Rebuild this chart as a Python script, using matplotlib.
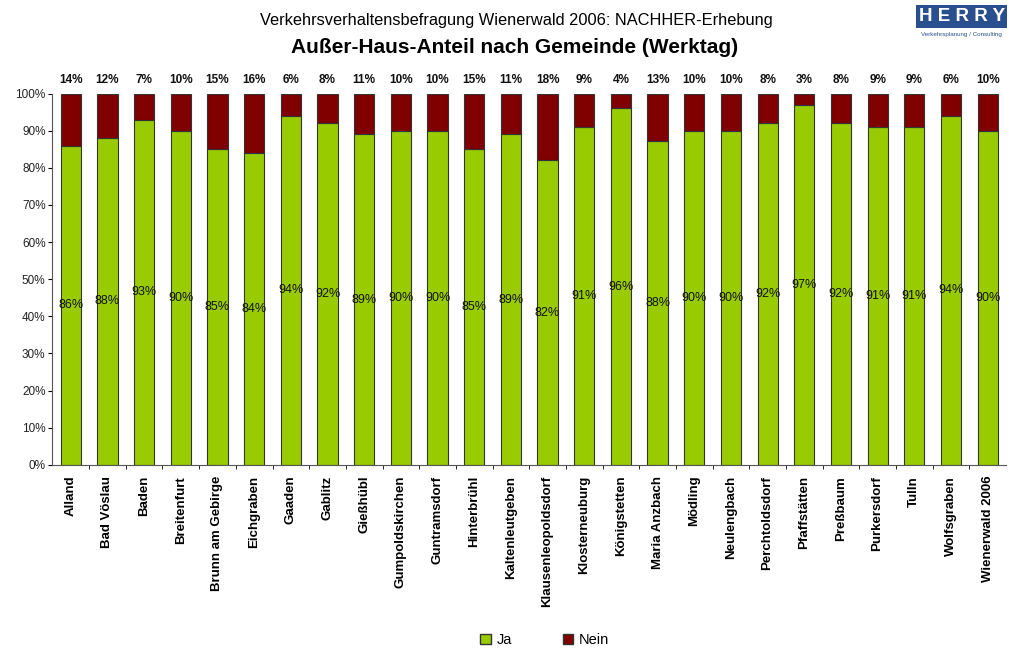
import matplotlib
matplotlib.use("Agg")
import matplotlib.pyplot as plt
import numpy as np
from matplotlib.patches import Rectangle

plt.rcParams["font.family"] = ["Liberation Sans", "DejaVu Sans"]

gemeinden = [
    "Alland", "Bad Vöslau", "Baden", "Breitenfurt", "Brunn am Gebirge",
    "Eichgraben", "Gaaden", "Gablitz", "Gießhübl", "Gumpoldskirchen",
    "Guntramsdorf", "Hinterbrühl", "Kaltenleutgeben", "Klausenleopoldsdorf",
    "Klosterneuburg", "Königstetten", "Maria Anzbach", "Mödling",
    "Neulengbach", "Perchtoldsdorf", "Pfaffstätten", "Preßbaum",
    "Purkersdorf", "Tulln", "Wolfsgraben", "Wienerwald 2006",
]
ja = [86, 88, 93, 90, 85, 84, 94, 92, 89, 90, 90, 85, 89, 82, 91, 96, 88,
      90, 90, 92, 97, 92, 91, 91, 94, 90]
nein = [14, 12, 7, 10, 15, 16, 6, 8, 11, 10, 10, 15, 11, 18, 9, 4, 13,
        10, 10, 8, 3, 8, 9, 9, 6, 10]

GREEN = "#99cc00"
RED = "#800000"

ja_arr = np.array(ja, dtype=float)
nein_arr = np.array(nein, dtype=float)
total = ja_arr + nein_arr
ja_share = ja_arr / total * 100
nein_share = nein_arr / total * 100
x = np.arange(len(gemeinden))

fig = plt.figure(figsize=(10.09, 6.5), dpi=100)
ax = fig.add_axes([0.052, 0.285, 0.945, 0.571])

ax.bar(x, ja_share, width=0.55, color=GREEN, edgecolor="#333333",
       linewidth=0.8, label="Ja")
ax.bar(x, nein_share, bottom=ja_share, width=0.55, color=RED,
       edgecolor="#333333", linewidth=0.8, label="Nein")

for xi, j, jv, nv in zip(x, ja_share, ja, nein):
    ax.text(xi, j / 2, f"{jv}%", ha="center", va="center", fontsize=9,
            color="#111111")
    ax.text(xi, 102, f"{nv}%", ha="center", va="bottom", fontsize=8.5,
            fontweight="bold", color="#111111")

ax.set_xlim(-0.5, len(gemeinden) - 0.5)
ax.set_ylim(0, 100)
ax.set_yticks(np.arange(0, 101, 10))
ax.set_yticklabels([f"{v}%" for v in range(0, 101, 10)], fontsize=8.5,
                   color="#222222")
ax.set_xticks(x)
ax.set_xticklabels(gemeinden, rotation=90, fontsize=9.5, fontweight="bold")
ax.set_xticks(np.arange(0.5, len(gemeinden) - 0.5, 1), minor=True)
ax.tick_params(axis="x", which="major", length=0, pad=8)
ax.tick_params(axis="x", which="minor", length=3, direction="out")
ax.tick_params(axis="y", length=3, direction="out", pad=2)
for side in ("top", "right"):
    ax.spines[side].set_visible(False)
for side in ("left", "bottom"):
    ax.spines[side].set_color("#555555")
    ax.spines[side].set_linewidth(0.8)

fig.text(0.512, 0.969, "Verkehrsverhaltensbefragung Wienerwald 2006: NACHHER-Erhebung",
         ha="center", va="center", fontsize=11.8)
fig.text(0.51, 0.927, "Außer-Haus-Anteil nach Gemeinde (Werktag)",
         ha="center", va="center", fontsize=15, fontweight="bold")

# firm logo in the top right corner
fig.text(0.953, 0.975, "H E R R Y", ha="center", va="center", fontsize=13.5,
         fontweight="bold", color="white",
         bbox=dict(boxstyle="square,pad=0.15", facecolor="#2a4f8f",
                   edgecolor="none"))
fig.text(0.953, 0.947, "Verkehrsplanung / Consulting", ha="center",
         va="center", fontsize=4.5, color="#2a4f8f")

handles = [Rectangle((0, 0), 1, 1, facecolor=GREEN, edgecolor="#333333"),
           Rectangle((0, 0), 1, 1, facecolor=RED, edgecolor="#333333")]
fig.legend(handles, ["Ja", "Nein"], loc="center", bbox_to_anchor=(0.54, 0.015),
           ncol=2, frameon=False, fontsize=10.5, handlelength=0.7,
           handleheight=0.7, columnspacing=3.5, handletextpad=0.4)

fig.savefig("out.png", dpi=100)
